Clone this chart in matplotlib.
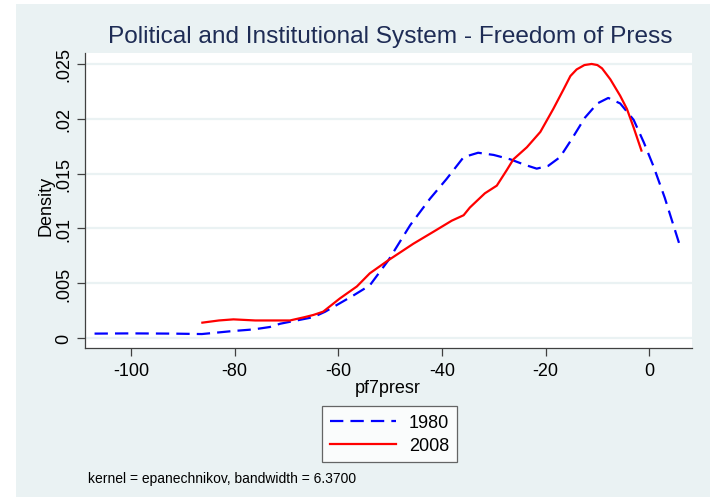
import matplotlib
matplotlib.use("Agg")
import matplotlib.pyplot as plt
from matplotlib.patches import Rectangle
from matplotlib.lines import Line2D

plt.rcParams['font.family'] = ['Liberation Sans', 'DejaVu Sans']

# 1980 density
x_1980 = [-107.0, -100.0, -92.0, -86.3, -80.2, -76.4, -73.2, -71.2, -68.0, -64.8, -62.5,
          -60.3, -57.0, -53.9, -50.3, -46.1, -42.3, -39.1, -35.8, -33.0, -30.0, -26.8,
          -24.0, -21.7, -19.5, -17.2, -15.0, -12.4, -10.0, -7.9, -5.6, -3.0, -1.0, 0.8,
          3.0, 6.0]
d_1980 = [0.0004, 0.00042, 0.0004, 0.00036, 0.00064, 0.00078, 0.0010, 0.0013, 0.0016, 0.0019, 0.0024,
          0.0030, 0.0039, 0.0048, 0.0071, 0.0103, 0.0127, 0.0145, 0.0165, 0.0169, 0.0167, 0.0163,
          0.0158, 0.01545, 0.0157, 0.0165, 0.0181, 0.0201, 0.0214, 0.0219, 0.0214, 0.0199, 0.0178, 0.0157,
          0.0128, 0.0083]

# 2008 density
x_2008 = [-86.2, -83.0, -80.2, -76.0, -73.2, -69.3, -66.5, -64.8, -62.9, -59.7, -56.4,
          -53.9, -50.3, -45.5, -41.6, -38.1, -35.8, -34.6, -31.7, -29.4, -27.5, -26.2,
          -23.6, -21.0, -18.5, -16.5, -15.2, -14.0, -12.5, -11.1, -10.0, -9.1, -7.5, -5.6,
          -4.3, -3.0, -1.5]
d_2008 = [0.0014, 0.0016, 0.0017, 0.0016, 0.0016, 0.0016, 0.0019, 0.0021, 0.0024, 0.0036, 0.0047,
          0.0059, 0.0071, 0.0086, 0.0097, 0.0107, 0.0112, 0.0119, 0.0132, 0.0139, 0.0153, 0.0163,
          0.0174, 0.0188, 0.0209, 0.0227, 0.0239, 0.0245, 0.0249, 0.0250, 0.0249, 0.0246, 0.0236, 0.0221,
          0.0209, 0.0192, 0.0171]

x_ticks = [-100, -80, -60, -40, -20, 0]
x_tick_labels = ['-100', '-80', '-60', '-40', '-20', '0']
y_ticks = [0, 0.005, 0.01, 0.015, 0.02, 0.025]
y_tick_labels = ['0', '.005', '.01', '.015', '.02', '.025']

title = 'Political and Institutional System - Freedom of Press'
note = 'kernel = epanechnikov, bandwidth = 6.3700'

W, H = 724, 502
fig = plt.figure(figsize=(W / 100, H / 100), dpi=100, facecolor='white')
bg = '#EAF2F3'
fig.patches.append(Rectangle((16 / W, 1 - 498 / H), (710 - 16) / W, (498 - 5) / H,
                             transform=fig.transFigure, facecolor=bg, edgecolor='none', zorder=-5))

ax = fig.add_axes([84.7 / W, 1 - 349.3 / H, (691.7 - 84.7) / W, (349.3 - 54) / H])
ax.set_zorder(2)
ax.set_facecolor('white')

ax.plot(x_1980, d_1980, color='#0000FF', lw=1.6, dashes=(6, 3.2), label='1980', zorder=3)
ax.plot(x_2008, d_2008, color='#FF0000', lw=1.6, label='2008', zorder=3)

ax.set_xlim(-108.9, 8.2)
ax.set_ylim(-0.00094, 0.0260)

ax.set_xticks(x_ticks)
ax.set_xticklabels(x_tick_labels, fontsize=13)
ax.set_yticks(y_ticks)
ax.set_yticklabels(y_tick_labels, fontsize=13, rotation=90, va='center')
ax.tick_params(axis='both', direction='out', length=6, width=0.9, color='#404040', labelcolor='black')
ax.tick_params(axis='x', pad=4)
ax.tick_params(axis='y', pad=3)

for y in y_ticks:
    ax.axhline(y, color=bg, lw=1.6, zorder=1)

for s in ['top', 'right']:
    ax.spines[s].set_visible(False)
for s in ['left', 'bottom']:
    ax.spines[s].set_color('#404040')
    ax.spines[s].set_linewidth(0.9)

ax.set_xlabel('pf7presr', fontsize=13, labelpad=0)
ax.set_ylabel('Density', fontsize=13)
ax.yaxis.set_label_coords(-0.050, 0.487)

fig.text(390 / W, 1 - 37 / H, title, ha='center', va='center', fontsize=17.6, color='#1E2C55')

handles = [Line2D([], [], color='#0000FF', lw=1.6, dashes=(6, 3.2)),
           Line2D([], [], color='#FF0000', lw=1.6)]
leg = fig.legend(handles, ['1980', '2008'], loc='center', bbox_to_anchor=(389.5 / W, 1 - 435 / H),
                 fontsize=13, frameon=True, fancybox=False, handlelength=3.7, handletextpad=0.7,
                 borderpad=0.45, labelspacing=0.35, edgecolor='#404040')
leg.get_frame().set_linewidth(0.9)

fig.text(88 / W, 1 - 479 / H, note, ha='left', va='center', fontsize=10, color='black')

fig.savefig('out.png', dpi=100, facecolor='white')
